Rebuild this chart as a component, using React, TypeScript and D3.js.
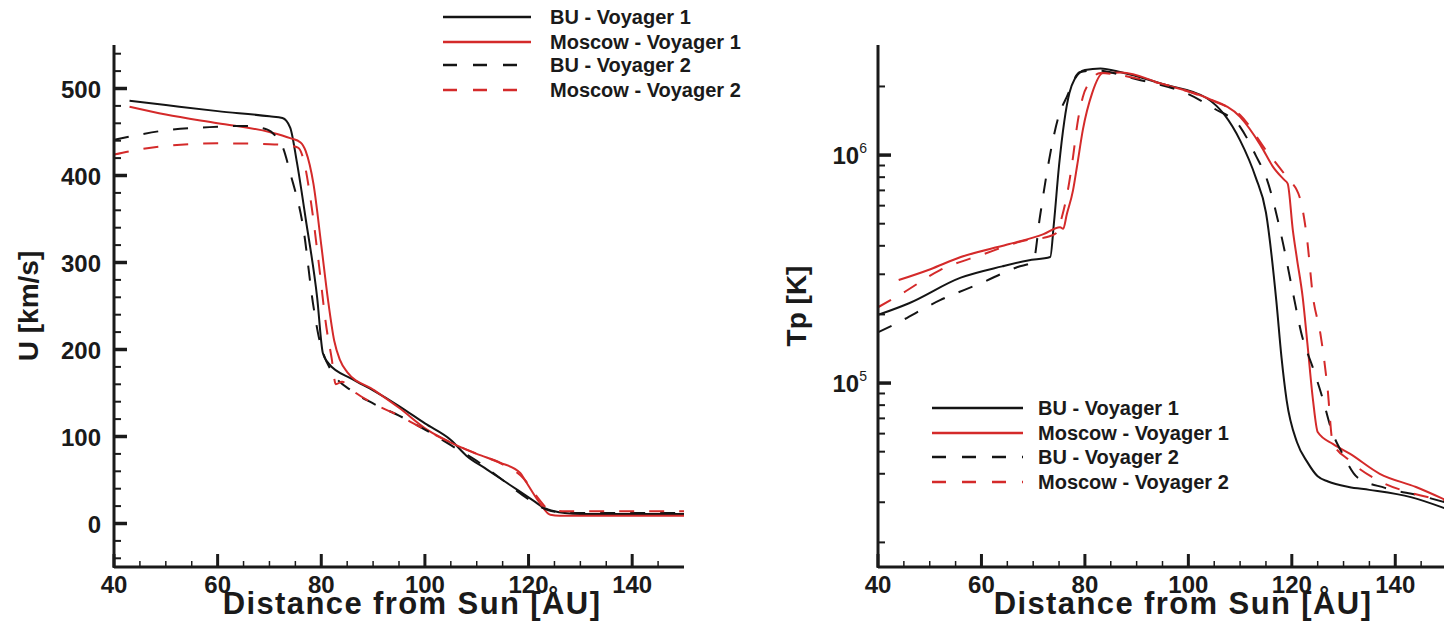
import React, { useEffect, useRef } from 'react';
import * as d3 from 'd3';

// ---- data ----
// left panel: bulk speed U [km/s] vs distance [AU]
const uBuV1X = [43, 50, 60, 70, 72.5, 74, 75.3, 77, 79.2, 80.3, 81.4, 86, 90, 95, 100, 105, 108, 112, 115, 118, 121, 123, 125, 127, 130, 140, 150];
const uBuV1Y = [486, 481, 474, 468, 466, 455, 415, 350, 260, 196, 184, 166, 153, 135, 115, 96, 78, 62, 50, 38, 26, 18, 14, 12, 11, 11, 11];

const uMosV1X = [43, 50, 60, 70, 74, 76, 77, 78.5, 80, 81.3, 82.5, 83.6, 85, 90, 95, 100.4, 105, 110, 114.5, 118.4, 119.5, 122, 124.2, 126, 150];
const uMosV1Y = [479, 470, 460, 450, 443, 438, 428, 390, 320, 257, 210, 188, 174, 154, 133, 108, 93, 80, 70, 58, 48, 25, 10, 9, 9];

const uBuV2X = [40, 45, 50, 60, 65, 69.5, 71.5, 72.6, 74, 76.6, 78.4, 79.5, 80.3, 82, 86, 90, 95, 100, 105, 110, 115, 120, 124, 128, 150];
const uBuV2Y = [441, 447, 452, 456, 457, 453, 443, 432, 403, 337, 253, 215, 197, 175, 152, 138, 124, 108, 90, 72, 50, 28, 15, 12, 12];

const uMosV2X = [40, 45, 50, 60, 70, 74, 75.5, 76.5, 78, 79.5, 81, 82, 82.8, 84, 86, 90, 95, 100, 105, 110, 115, 119, 122, 124, 127, 150];
const uMosV2Y = [424, 430, 434, 437, 436, 434, 432, 420, 370, 300, 225, 190, 160, 163, 153, 138, 124, 108, 93, 80, 68, 52, 28, 16, 14, 14];

// right panel: proton temperature Tp [K] vs distance [AU]
const tBuV1X = [40, 46, 56, 64, 69, 73.3, 74, 75, 76, 77, 78, 80, 83, 87, 95, 103.5, 107, 110, 113, 115, 117, 118, 119, 121, 123, 125, 127, 131, 135, 143, 150];
const tBuV1Y = [1.99e5, 2.24e5, 2.9e5, 3.25e5, 3.45e5, 3.57e5, 5e5, 9e5, 1.4e6, 1.87e6, 2.15e6, 2.36e6, 2.4e6, 2.31e6, 2.05e6, 1.78e6, 1.5e6, 1.16e6, 8e5, 5.6e5, 2.3e5, 1.3e5, 8.4e4, 5.5e4, 4.5e4, 3.9e4, 3.7e4, 3.5e4, 3.4e4, 3.16e4, 2.8e4];

const tMosV1X = [44, 50, 56, 65, 72, 75.2, 75.8, 76.5, 77.7, 78.5, 79.6, 81.4, 83.5, 87, 95, 103.6, 110, 114, 116.4, 118.5, 119.2, 120.2, 121, 122.1, 123, 124.1, 125, 128, 131.2, 137, 144, 150];
const tMosV1Y = [2.83e5, 3.15e5, 3.57e5, 4.05e5, 4.5e5, 4.83e5, 4.75e5, 5.5e5, 7e5, 9e5, 1.29e6, 1.87e6, 2.29e6, 2.3e6, 2.05e6, 1.78e6, 1.47e6, 1.1e6, 8.86e5, 7.8e5, 7.5e5, 4.68e5, 3.5e5, 2.38e5, 1.5e5, 8.4e4, 6.1e4, 5.4e4, 4.9e4, 4e4, 3.5e4, 3.05e4];

const tBuV2X = [40, 43, 52, 60, 67, 70, 71.3, 72.5, 73.8, 75, 76.5, 79, 82, 90, 100, 105, 110, 113, 115.2, 118.3, 120.2, 122, 124, 126, 127.5, 130, 132.6, 138, 145, 150];
const tBuV2Y = [1.67e5, 1.8e5, 2.31e5, 2.75e5, 3.23e5, 3.4e5, 5.35e5, 8e5, 1.16e6, 1.5e6, 1.8e6, 2.31e6, 2.35e6, 2.15e6, 1.85e6, 1.6e6, 1.33e6, 1e6, 7.8e5, 4.1e5, 2.5e5, 1.6e5, 1.18e5, 8.5e4, 6.4e4, 4.8e4, 3.87e4, 3.47e4, 3.2e4, 2.98e4];

const tMosV2X = [40, 45, 52, 60, 68.8, 72.7, 74.5, 75.5, 76.7, 77.7, 78.5, 79.6, 81, 83, 90, 100, 105, 110, 115, 119, 121.5, 122.9, 124.1, 125.5, 126.9, 127.9, 131, 136.5, 143, 150];
const tMosV2Y = [2.15e5, 2.5e5, 3.13e5, 3.65e5, 4.24e5, 4.37e5, 4.55e5, 5.3e5, 7e5, 9.8e5, 1.35e6, 1.8e6, 2.1e6, 2.29e6, 2.17e6, 1.9e6, 1.72e6, 1.5e6, 1.05e6, 8e5, 6.55e5, 4.37e5, 2.38e5, 1.66e5, 9.5e4, 5.5e4, 4.6e4, 3.76e4, 3.3e4, 3.05e4];

const seriesNames = ['BU - Voyager 1', 'Moscow - Voyager 1', 'BU - Voyager 2', 'Moscow - Voyager 2'];
const seriesColors = ['#141414', '#d42a2a', '#141414', '#d42a2a'];
const seriesDashed = [false, false, true, true];

const xMajorTicks = [40, 60, 80, 100, 120, 140];
const uMajorTicks = [0, 100, 200, 300, 400, 500];
const tMajorTicks = [1e5, 1e6];
const tMinorTicks = [2e4, 3e4, 4e4, 5e4, 6e4, 7e4, 8e4, 9e4, 2e5, 3e5, 4e5, 5e5, 6e5, 7e5, 8e5, 9e5, 2e6];

const FONT = 'Arial, "Liberation Sans", Helvetica, sans-serif';
const INK = '#1a1a1a';

function zip(xs: number[], ys: number[]) {
  return xs.map((x, i) => [x, ys[i]] as [number, number]);
}

function App() {
  const ref = useRef<SVGSVGElement>(null);

  useEffect(() => {
    const svg = d3.select(ref.current);
    svg.selectAll('*').remove();

    const uSeries = [zip(uBuV1X, uBuV1Y), zip(uMosV1X, uMosV1Y), zip(uBuV2X, uBuV2Y), zip(uMosV2X, uMosV2Y)];
    const tSeries = [zip(tBuV1X, tBuV1Y), zip(tMosV1X, tMosV1Y), zip(tBuV2X, tBuV2Y), zip(tMosV2X, tMosV2Y)];

    // scales, left panel linear, right panel log
    const xL = d3.scaleLinear().domain([40, 150]).range([114, 684]);
    const yL = d3.scaleLinear().domain([-50, 550]).range([567, 45]);
    const xR = d3.scaleLinear().domain([40, 150]).range([878, 1447]);
    const yR = d3.scaleLog().domain([1.56e4, 3.04e6]).range([567, 45]);

    const defs = svg.append('defs');
    defs.append('clipPath').attr('id', 'clipL')
      .append('rect').attr('x', 114).attr('y', 45).attr('width', 570).attr('height', 522);
    defs.append('clipPath').attr('id', 'clipR')
      .append('rect').attr('x', 878).attr('y', 45).attr('width', 570).attr('height', 522);

    function drawLines(series: [number, number][][], x: any, y: any, clip: string) {
      const g = svg.append('g').attr('clip-path', `url(#${clip})`);
      const line = d3.line<[number, number]>()
        .x(d => x(d[0]))
        .y(d => y(d[1]))
        .curve(d3.curveMonotoneX);
      series.forEach((s, i) => {
        g.append('path')
          .attr('d', line(s))
          .attr('fill', 'none')
          .attr('stroke', seriesColors[i])
          .attr('stroke-width', 2)
          .attr('stroke-dasharray', seriesDashed[i] ? '15,15' : null);
      });
    }

    drawLines(uSeries, xL, yL, 'clipL');
    drawLines(tSeries, xR, yR, 'clipR');

    // x axes, ticks point up into the plot
    function xAxis(x: any, x0: number, x1: number, maxV: number, labelX: number) {
      const g = svg.append('g');
      g.append('line').attr('x1', x0).attr('x2', x1).attr('y1', 567).attr('y2', 567)
        .attr('stroke', INK).attr('stroke-width', 3);
      d3.range(45, maxV + 0.1, 5).forEach(v => {
        if (v % 20 === 0) return;
        g.append('line').attr('x1', x(v)).attr('x2', x(v)).attr('y1', 567).attr('y2', 561)
          .attr('stroke', INK).attr('stroke-width', 1.5);
      });
      xMajorTicks.forEach(v => {
        g.append('line').attr('x1', x(v)).attr('x2', x(v)).attr('y1', 567).attr('y2', 554)
          .attr('stroke', INK).attr('stroke-width', 3);
        g.append('text').attr('x', x(v)).attr('y', 593)
          .attr('text-anchor', 'middle')
          .attr('font-family', FONT).attr('font-weight', 'bold').attr('font-size', 24)
          .attr('fill', INK).text(v);
      });
      g.append('text').attr('x', labelX).attr('y', 614)
        .attr('text-anchor', 'middle')
        .attr('font-family', FONT).attr('font-weight', 'bold').attr('font-size', 31)
        .attr('letter-spacing', 1.4)
        .attr('fill', INK).text('Distance from Sun [ÅU]');
    }
    xAxis(xL, 114, 684, 145, 412);
    xAxis(xR, 878, 1444, 150, 1183);

    // left y axis
    const gL = svg.append('g');
    gL.append('line').attr('x1', 114).attr('x2', 114).attr('y1', 45).attr('y2', 568)
      .attr('stroke', INK).attr('stroke-width', 3);
    d3.range(-40, 541, 20).forEach(v => {
      if (v % 100 === 0) return;
      gL.append('line').attr('x1', 114).attr('x2', 121).attr('y1', yL(v)).attr('y2', yL(v))
        .attr('stroke', INK).attr('stroke-width', 2);
    });
    uMajorTicks.forEach(v => {
      gL.append('line').attr('x1', 114).attr('x2', 127).attr('y1', yL(v)).attr('y2', yL(v))
        .attr('stroke', INK).attr('stroke-width', 3.5);
      gL.append('text').attr('x', 101).attr('y', yL(v) + 9)
        .attr('text-anchor', 'end')
        .attr('font-family', FONT).attr('font-weight', 'bold').attr('font-size', 24)
        .attr('fill', INK).text(v);
    });
    gL.append('text').attr('transform', 'translate(38,306) rotate(-90)')
      .attr('text-anchor', 'middle')
      .attr('font-family', FONT).attr('font-weight', 'bold').attr('font-size', 28)
      .attr('fill', INK).text('U [km/s]');

    // right y axis (log)
    const gR = svg.append('g');
    gR.append('line').attr('x1', 878).attr('x2', 878).attr('y1', 45).attr('y2', 568)
      .attr('stroke', INK).attr('stroke-width', 3);
    tMinorTicks.forEach(v => {
      gR.append('line').attr('x1', 878).attr('x2', 885).attr('y1', yR(v)).attr('y2', yR(v))
        .attr('stroke', INK).attr('stroke-width', 2);
    });
    tMajorTicks.forEach(v => {
      gR.append('line').attr('x1', 878).attr('x2', 891).attr('y1', yR(v)).attr('y2', yR(v))
        .attr('stroke', INK).attr('stroke-width', 3.5);
      const t = gR.append('text').attr('x', 867).attr('y', yR(v) + 9)
        .attr('text-anchor', 'end')
        .attr('font-family', FONT).attr('font-weight', 'bold').attr('font-size', 24)
        .attr('fill', INK);
      t.append('tspan').text('10');
      t.append('tspan').attr('dy', -11).attr('font-size', 14).attr('font-weight', 'normal')
        .text(String(Math.round(Math.log10(v))));
    });
    gR.append('text').attr('transform', 'translate(806,306) rotate(-90)')
      .attr('text-anchor', 'middle')
      .attr('font-family', FONT).attr('font-weight', 'bold').attr('font-size', 28)
      .attr('fill', INK).text('Tp [K]');

    // legends
    function legend(lx0: number, lx1: number, tx: number, rows: number[]) {
      const g = svg.append('g');
      seriesNames.forEach((name, i) => {
        g.append('line').attr('x1', lx0).attr('x2', lx1).attr('y1', rows[i]).attr('y2', rows[i])
          .attr('stroke', seriesColors[i]).attr('stroke-width', 2.5)
          .attr('stroke-dasharray', seriesDashed[i] ? '14,16' : null);
        g.append('text').attr('x', tx).attr('y', rows[i] + 7)
          .attr('font-family', FONT).attr('font-weight', 'bold').attr('font-size', 20)
          .attr('fill', INK).text(name);
      });
    }
    legend(443, 531, 550, [17, 42, 65, 90]);
    legend(932, 1023, 1038, [408, 433, 457, 482]);
  }, []);

  return (
    <svg ref={ref} width={1444} height={623}
      style={{ position: 'absolute', left: 0, top: 0, background: '#fff' }} />
  );
}

export default App;
